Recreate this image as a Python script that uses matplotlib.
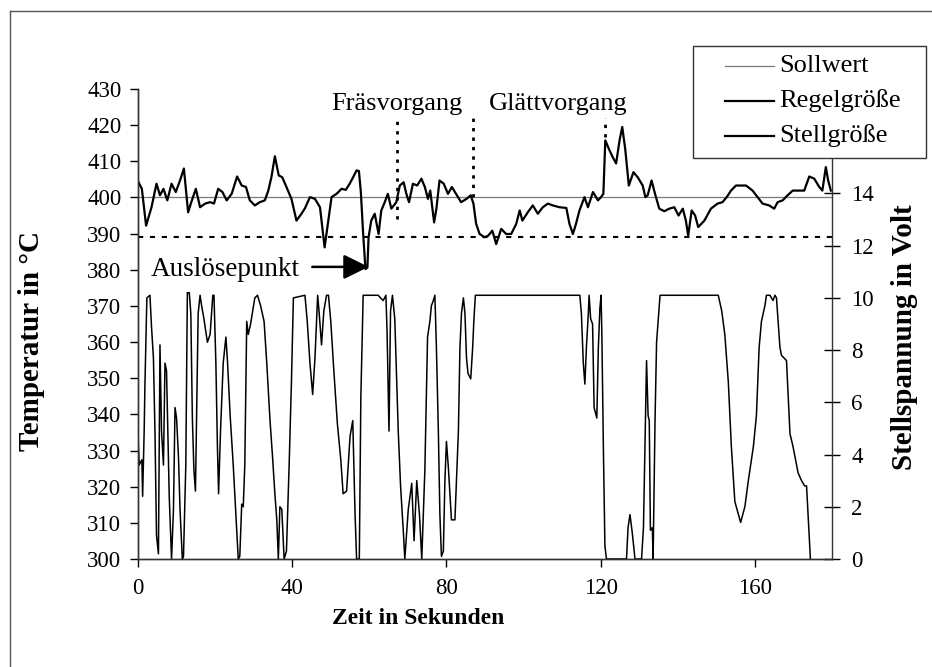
import matplotlib
matplotlib.use('Agg')
import matplotlib.pyplot as plt
from matplotlib.lines import Line2D
from matplotlib.patches import Rectangle

plt.rcParams['font.family'] = ['Liberation Serif', 'DejaVu Serif']

# Regelgröße (Temperatur in °C) over time
t_regel = [0, 1, 2.1, 3.5, 4.8, 5.7, 6.6, 7.6, 8.7, 9.8, 10.9, 11.9, 13, 13.7, 15, 16.1, 17.4,
           18.7, 19.7, 20.8, 21.9, 23, 24.3, 25.7, 26.9, 28, 29, 30.3, 31.6, 32.9, 33.8, 34.6,
           35.5, 36.5, 37.4, 38.5, 39.8, 41.1, 42.4, 43.3, 44.6, 45.9, 47.2, 48.4, 49.3, 50.2,
           51.5, 52.8, 53.9, 54.9, 55.8, 56.7, 57.3, 57.8, 58.4, 59, 59.5, 59.8, 60.5, 61.4,
           62.4, 63.1, 64, 64.8, 65.7, 67, 67.9, 68.9, 69.6, 70.3, 71.3, 72.4, 73.5, 74.4, 75.2,
           75.8, 76.8, 77.4, 78.2, 79.3, 80.4, 81.4, 82.5, 83.8, 85.2, 86.3, 87, 87.7, 88.6,
           89.9, 90.8, 91.9, 92.9, 94.2, 95.5, 96.8, 98.1, 99, 99.7, 101.1, 102.4, 103.7, 105,
           106.3, 107.6, 109.3, 111.1, 111.9, 112.8, 113.6, 114.5, 115.8, 116.7, 118, 119.3,
           120.1, 120.7, 121.2, 122.1, 123.1, 124, 124.9, 125.6, 126.4, 127.3, 128.5, 129.6,
           130.9, 131.6, 132.2, 133.2, 134.1, 135.2, 136.5, 137.8, 139.1, 140.2, 141.3, 142.1,
           142.7, 143.6, 144.5, 145.3, 146.9, 148.6, 150.3, 151.6, 152.7, 153.8, 155.1, 157.7,
           159.4, 160.7, 162, 163.7, 165, 165.9, 167.2, 168.5, 169.8, 172.8, 174.1, 175.4,
           176.7, 177.5, 178.4, 179, 179.7]
T_regel = [404.5, 402.4, 392.2, 397.3, 403.8, 400.6, 402.4, 399.2, 403.8, 401.5, 404.7, 408,
           395.9, 398.3, 402.4, 397.3, 398.3, 398.7, 398.3, 402.4, 401.5, 399.2, 401, 405.8,
           403.3, 402.9, 399.2, 397.8, 398.7, 399.2, 401.9, 405.6, 411.4, 406.1, 405.6, 402.9,
           399.6, 393.6, 395.5, 397, 400.1, 399.6, 397.3, 386.2, 393.1, 400.1, 401, 402.4,
           402.1, 403.8, 405.6, 407.5, 407.3, 401.5, 389.9, 380.2, 380.6, 389, 393.6, 395.5,
           389.9, 396.4, 398.7, 401, 396.9, 398.7, 403.3, 404.2, 401, 398.7, 403.8, 403.3,
           405.2, 402.9, 399.6, 401.9, 393.1, 396.9, 404.7, 403.8, 401, 402.9, 401, 398.7,
           399.6, 400.6, 398.3, 392.7, 389.9, 389, 389.4, 390.8, 387.1, 391.3, 389.9, 389.9,
           392.7, 396.4, 393.6, 395.9, 397.8, 395.5, 397.3, 398.3, 397.8, 397.3, 397.1, 392.7,
           389.9, 392.7, 396.4, 400.1, 397.3, 401.5, 399.2, 400.1, 401, 415.8, 413.5, 411.2,
           409.4, 415.8, 419.5, 413.1, 403.3, 407, 405.6, 403.3, 400.1, 400.6, 404.7, 401,
           396.9, 396.2, 396.9, 397.3, 395, 396.9, 393.6, 389.4, 396.4, 395, 391.8, 393.6,
           396.9, 398.3, 398.7, 400.1, 401.9, 403.3, 403.3, 401.9, 400.1, 398.3, 397.8, 396.9,
           398.7, 399.2, 400.6, 401.9, 401.9, 405.8, 405.2, 402.9, 401.9, 408.4, 404.7, 401.9]

# Stellgröße (Stellspannung in Volt) over time
t_stell = [0, 0.3, 1, 1.2, 1.6, 1.8, 2.3, 3.1, 3.5, 4, 4.4, 4.8, 5.3, 5.7, 6.1, 6.6, 7, 7.4,
           8.1, 8.7, 9.2, 9.6, 10, 10.5, 10.9, 11.5, 11.8, 12.4, 12.8, 13.3, 13.7, 14.1, 14.5,
           14.9, 15.2, 15.6, 16.1, 16.5, 17.1, 18, 18.7, 19.4, 19.7, 20.2, 20.6, 20.9, 21.4,
           22.1, 22.8, 23.2, 23.9, 24.7, 25.6, 26, 26.4, 26.9, 27.3, 27.7, 28.2, 28.6, 29.2,
           30.3, 31, 31.8, 32.7, 33.4, 34.2, 34.9, 35.5, 36, 36.4, 36.8, 37.3, 37.9, 38.5,
           39.2, 39.8, 40.3, 43.3, 43.9, 44.6, 45.3, 45.9, 46.6, 47, 47.6, 48.2, 48.9, 49.4,
           50, 50.8, 51.7, 52.6, 53.2, 54.1, 55, 55.7, 56.3, 56.7, 57.4, 57.8, 58.4, 62.3,
           62.9, 63.6, 64.3, 64.6, 65.1, 65.5, 66, 66.6, 67.1, 67.5, 68.1, 68.8, 69.2, 70.1,
           71, 71.6, 72.3, 73, 73.6, 74.4, 75.1, 75.7, 76.1, 76.6, 77, 77.4, 77.9, 78.3, 78.7,
           79.2, 79.6, 80, 80.5, 80.9, 81.3, 82.2, 82.6, 83.1, 83.5, 83.9, 84.4, 84.8, 85.2,
           85.6, 86.3, 86.8, 87.1, 87.5, 114.6, 115, 115.5, 115.9, 116.3, 116.8, 117, 117.4,
           117.9, 118.3, 119, 119.4, 119.8, 120.1, 120.3, 120.7, 121.1, 121.5, 126.7, 127.1,
           127.6, 128.2, 128.9, 130.6, 131.1, 131.5, 131.9, 132.3, 132.6, 132.9, 133.4, 133.6,
           134.1, 134.5, 135.4, 150.5, 151.4, 152.2, 153.1, 153.9, 154.8, 156.3, 157.4, 158.3,
           159.6, 160.4, 161.1, 161.7, 162.6, 163, 163.9, 164.7, 165.2, 165.6, 166.5, 166.9,
           168.2, 169.1, 169.9, 171.2, 172.1, 172.9, 173.4, 173.8, 174.4]
V_stell = [4.7, 3.6, 3.8, 2.4, 4.9, 6.7, 10, 10.1, 8.9, 7.7, 4.9, 0.9, 0.2, 8.2, 4.9, 3.6, 7.5,
           7.2, 2.4, 0, 1.9, 5.8, 5.4, 3.9, 1.9, 0, 0.1, 3.6, 10.2, 10.2, 9.4, 5.4, 3.4, 2.6,
           5.5, 9.4, 10.1, 9.7, 9.2, 8.3, 8.6, 10.1, 10.1, 7.5, 4.3, 2.5, 4.9, 7.5, 8.5, 7.6,
           5.5, 3.6, 1.1, 0, 0.1, 2.1, 2, 3.6, 9.1, 8.6, 9, 10, 10.1, 9.7, 9.1, 7.5, 5.4, 3.9,
           2.5, 1.5, 0, 2, 1.9, 0, 0.3, 3.6, 6.8, 10, 10.1, 9.1, 7.5, 6.3, 7.7, 10.1, 9.4, 8.2,
           9.5, 10.1, 10.1, 9.1, 7.2, 5.2, 3.8, 2.5, 2.6, 4.7, 5.3, 1.7, 0, 0, 6.2, 10.1, 10.1,
           10, 9.9, 10.1, 8.7, 4.9, 9.5, 10.1, 9.2, 6.8, 4.9, 2.8, 1.1, 0, 1.9, 2.9, 0.7, 3,
           1.7, 0, 3.4, 8.5, 9.1, 9.7, 9.9, 10.1, 8.1, 4.9, 1.7, 0.1, 0.3, 3, 4.5, 3.5, 2.5,
           1.5, 1.5, 3, 4.9, 8.1, 9.4, 10, 9.4, 7.7, 7.1, 6.9, 8.1, 9.1, 10.1, 10.1, 9.4, 7.5,
           6.7, 8.1, 9.4, 10.1, 9.2, 9, 5.8, 5.4, 8.1, 9.6, 10.1, 8.7, 4.3, 0.5, 0, 0, 1.2, 1.7,
           1, 0, 0, 1.2, 4.3, 7.6, 5.5, 5.3, 1.1, 1.2, 0, 5.3, 8.3, 10.1, 10.1, 9.5, 8.6, 6.8,
           4.3, 2.2, 1.4, 2, 3, 4.3, 5.5, 8.1, 9.1, 9.7, 10.1, 10.1, 9.9, 10.1, 10, 8.1, 7.8,
           7.6, 4.8, 4.3, 3.3, 3, 2.8, 2.8, 1.7, 0]

sollwert = 400
ausloese_schwelle = 389
phase_lines = [67.1, 87.0, 121.0]
phase_tops = [422, 422, 422]
phase_bottoms = [394, 400, 416.7]
legend_labels = ['Sollwert', 'Regelgröße', 'Stellgröße']

W, H = 932, 667
fig = plt.figure(figsize=(W / 100, H / 100), dpi=100)
ax = fig.add_axes([138 / W, 1 - 559 / H, (832 - 138) / W, (559 - 89) / H])
ax2 = ax.twinx()

ax.axhline(sollwert, color='#7a7a7a', lw=0.9, zorder=2)
ax.axhline(ausloese_schwelle, color='black', lw=1.5, dashes=(2.5, 3.2), zorder=2)
for x, y0, y1 in zip(phase_lines, phase_bottoms, phase_tops):
    ax.plot([x, x], [y0, y1], color='black', lw=2, dashes=(1.2, 2.2), zorder=2)
ax.plot(t_regel, T_regel, color='black', lw=1.6, zorder=3)
ax2.plot(t_stell, V_stell, color='black', lw=1.1)

ax.set_xlim(0, 180)
ax.set_ylim(300, 430)
ax2.set_ylim(0, 18)
ax.set_xticks([0, 40, 80, 120, 160])
ax.set_yticks(range(300, 431, 10))
ax2.set_yticks(range(0, 15, 2))

for a in (ax, ax2):
    a.spines['top'].set_visible(False)
    for s in a.spines.values():
        s.set_color('#333333')
        s.set_linewidth(1.0)
ax.spines['right'].set_visible(False)

tick_fs = 16.5
ax.tick_params(axis='x', direction='out', length=6, width=1, pad=8, labelsize=tick_fs)
ax.tick_params(axis='y', direction='out', length=6, width=1, pad=6, labelsize=tick_fs)
ax2.tick_params(axis='y', direction='inout', length=12, width=1, pad=8, labelsize=tick_fs)

ax.text(67.1, 424.2, 'Fräsvorgang', ha='center', va='baseline', fontsize=19)
ax.text(109, 424.2, 'Glättvorgang', ha='center', va='baseline', fontsize=19)
ax.text(3.4, 378.3, 'Auslösepunkt', ha='left', va='baseline', fontsize=19.5)
ax.annotate('', xy=(59.8, 380.8), xytext=(45.2, 380.8),
            arrowprops=dict(arrowstyle='-|>,head_length=0.85,head_width=0.42',
                            color='black', lw=1.8, mutation_scale=18,
                            shrinkA=0, shrinkB=0))

fig.text(32 / W, 1 - 341 / H, 'Temperatur in °C', rotation=90, ha='center', va='center',
         fontsize=21, fontweight='bold')
fig.text(905 / W, 1 - 337 / H, 'Stellspannung in Volt', rotation=90, ha='center',
         va='center', fontsize=21, fontweight='bold')
fig.text(418 / W, 1 - 618 / H, 'Zeit in Sekunden', ha='center', va='center',
         fontsize=17, fontweight='bold')

# legend box drawn by hand so it keeps the wide spacing of the original
fig.add_artist(Rectangle((693 / W, 1 - 158 / H), (926 - 693) / W, (158 - 46) / H,
                         transform=fig.transFigure, facecolor='white',
                         edgecolor='#333333', lw=1.0, zorder=5))
leg_styles = [('#7a7a7a', 0.9), ('black', 1.6), ('black', 1.6)]
for i, (lab, (c, lw)) in enumerate(zip(legend_labels, leg_styles)):
    yy = 1 - (65.5 + 35.2 * i) / H
    fig.add_artist(Line2D([725 / W, 774 / W], [yy, yy], color=c, lw=lw, zorder=6))
    fig.text(779 / W, yy, lab, ha='left', va='center', fontsize=19, zorder=6)

# outer frame (only top and left edge visible in the scan)
fig.add_artist(Line2D([10 / W, 10 / W], [0, 1 - 11 / H], color='#555555', lw=1.0))
fig.add_artist(Line2D([10 / W, 1], [1 - 11 / H, 1 - 11 / H], color='#555555', lw=1.0))

fig.savefig('out.png', dpi=100)
